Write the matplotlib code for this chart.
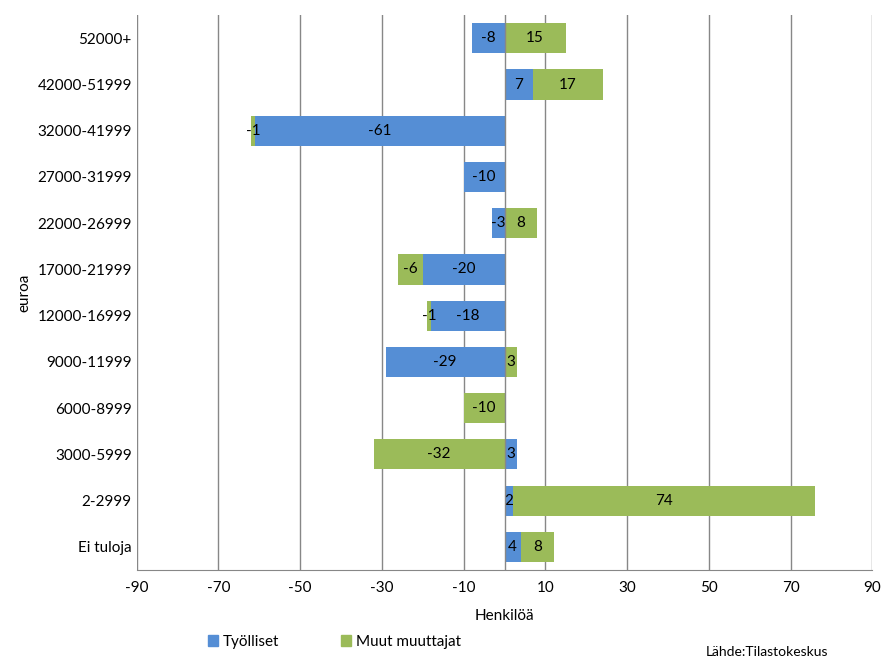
import matplotlib
matplotlib.use("Agg")
import matplotlib.pyplot as plt
import numpy as np

categories = ["52000+", "42000-51999", "32000-41999", "27000-31999", "22000-26999",
              "17000-21999", "12000-16999", "9000-11999", "6000-8999", "3000-5999",
              "2-2999", "Ei tuloja"]
tyolliset = [-8, 7, -61, -10, -3, -20, -18, -29, 0, 3, 2, 4]
muut = [15, 17, -1, 0, 8, -6, -1, 3, -10, -32, 74, 8]
xticks = [-90, -70, -50, -30, -10, 10, 30, 50, 70, 90]

plt.rcParams['font.family'] = ['Lato', 'DejaVu Sans']
plt.rcParams['axes.unicode_minus'] = False
fig = plt.figure(figsize=(8.82, 6.59), dpi=100)
ax = fig.add_axes([0.155, 0.135, 0.834, 0.842])
blue, green = "#558ED5", "#9BBB59"
y = np.arange(len(categories))[::-1]
h = 0.65
for yi, t, m in zip(y, tyolliset, muut):
    pos, neg = 0, 0
    for v, c in ((t, blue), (m, green)):
        if v == 0:
            continue
        if v > 0:
            left = pos; pos += v
        else:
            left = neg; neg += v
        ax.barh(yi, v, left=left, height=h, color=c, zorder=3)
        ax.text(left + v / 2, yi, str(v), ha="center", va="center", fontsize=11, zorder=4)

ax.set_xlim(-90, 90)
ax.set_ylim(-0.5, len(categories) - 0.5)
ax.set_xticks(xticks)
ax.set_yticks(y)
ax.set_yticklabels(categories, fontsize=11)
ax.tick_params(axis="x", labelsize=11, length=0, pad=8)
ax.tick_params(axis="y", length=0)
ax.grid(axis="x", color="#878787", lw=1, zorder=0)
ax.axvline(0, color="#878787", lw=1, zorder=5)
for s in ["left", "right", "top"]:
    ax.spines[s].set_visible(False)
ax.spines["bottom"].set_color("#878787")
ax.set_xlabel("Henkilöä", fontsize=11, labelpad=10)
ax.set_ylabel("euroa", fontsize=11)

from matplotlib.patches import Patch
fig.legend(handles=[Patch(color=blue, label="Työlliset"), Patch(color=green, label="Muut muuttajat")],
           loc="lower left", bbox_to_anchor=(0.22, -0.005), ncol=2, frameon=False,
           fontsize=11, handlelength=0.7, handleheight=0.7, columnspacing=4, handletextpad=0.3)
fig.text(0.80, 0.005, "Lähde:Tilastokeskus", fontsize=10)
fig.savefig("out.png", dpi=100)
